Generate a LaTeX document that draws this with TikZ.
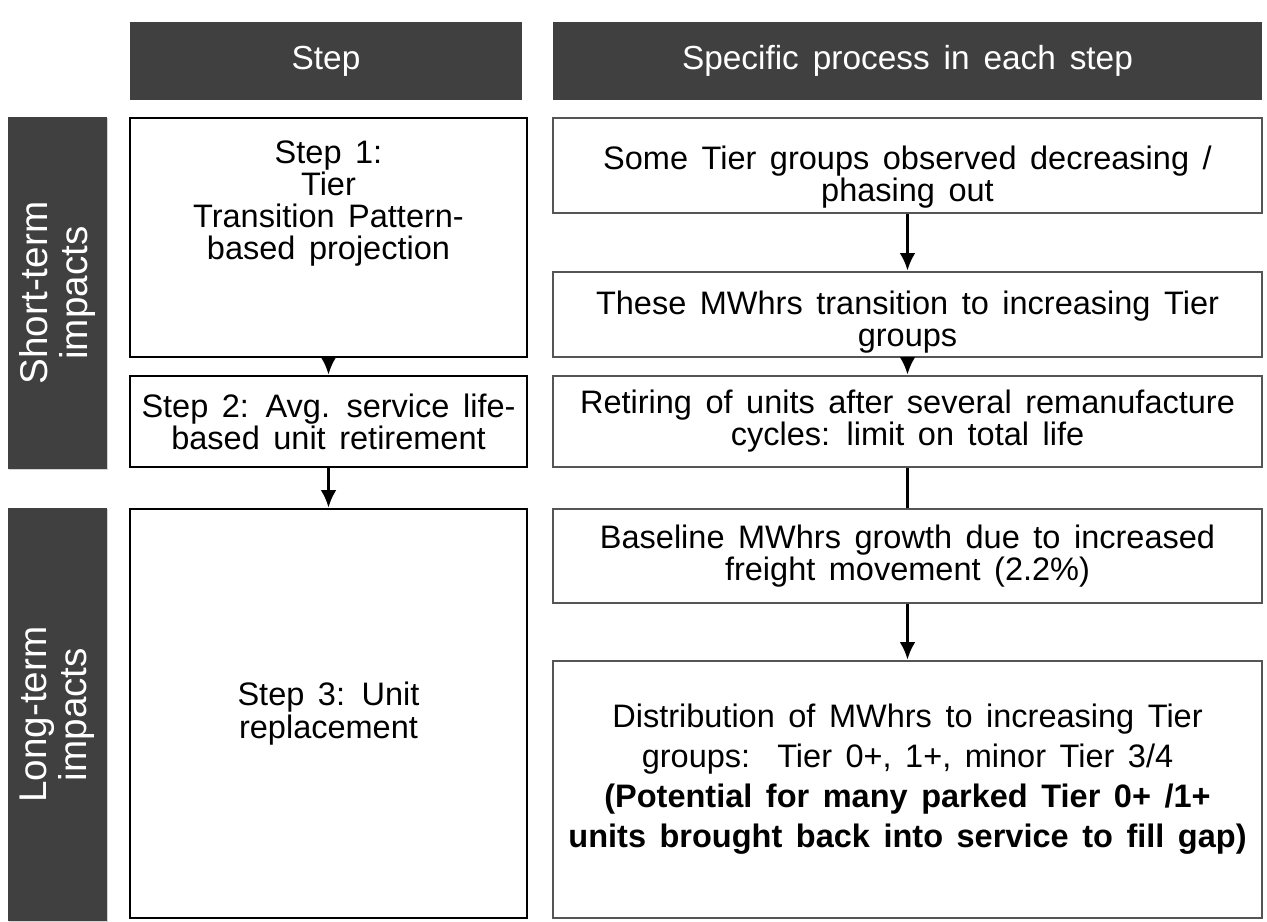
\documentclass[tikz,border=0pt]{standalone}
\usepackage{fontspec}
\setmainfont{Liberation Sans}[WordSpace=1.5]
\usetikzlibrary{shadows,arrows.meta}
\definecolor{hdrgray}{HTML}{404040}
\definecolor{boxgray}{HTML}{555555}

\begin{document}
\begin{tikzpicture}[x=0.02cm,y=-0.02cm,
    hdr/.style={fill=hdrgray,text=white,inner sep=0pt,minimum height=1.56cm,font=\fontsize{19}{22}\selectfont},
    side/.style={fill=hdrgray,text=white,rotate=90,align=center,inner sep=0pt,minimum height=1.98cm,
      drop shadow={opacity=0.35,shadow xshift=0.6pt,shadow yshift=-0.6pt},font=\fontsize{22}{22.7}\selectfont},
    stepbox/.style={draw=black,line width=1.6pt,align=center,inner sep=0pt,minimum width=7.94cm,font=\fontsize{18.5}{18.3}\selectfont},
    procbox/.style={draw=boxgray,line width=1.6pt,align=center,inner sep=0pt,minimum width=14.18cm,font=\fontsize{18.5}{18.3}\selectfont},
    link/.style={line width=1.6pt,-{Latex[length=10pt,width=9pt]}}]
        \useasboundingbox (0,0) rectangle (1267,921);
        \path
          (326,61)     node[hdr,minimum width=7.84cm]  (hstep) {Step}
          (907.5,61)   node[hdr,minimum width=14.18cm] (hproc) {Specific process in each step}
          (57.5,293)   node[side,minimum width=7.04cm] (short) {Short-term\\impacts}
          (57.5,714.5) node[side,minimum width=8.26cm] (long)  {Long-term\\impacts};
        \path
          (328.5,237.5) node[stepbox,minimum height=4.78cm] (s1) {Step 1:\\Tier\\Transition Pattern-\\based projection\\[24pt]~}
          (328.5,421.5) node[stepbox,minimum height=1.82cm] (s2) {Step 2: Avg. service life-\\based unit retirement}
          (328.5,713.5) node[stepbox,minimum height=8.18cm] (s3) {Step 3: Unit\\replacement};
        % text sits a little off centre in some boxes
        \path
          (907.5,165.5) node[procbox,minimum height=1.9cm]  (pa) {~\\[8pt]Some Tier groups observed decreasing /\\phasing out}
          (907.5,314.5) node[procbox,minimum height=1.7cm]  (pb) {~\\[4pt]These MWhrs transition to increasing Tier\\groups}
          (907.5,421.5) node[procbox,minimum height=1.82cm] (pc) {Retiring of units after several remanufacture\\cycles: limit on total life}
          (907.5,556)   node[procbox,minimum height=1.88cm] (pd) {Baseline MWhrs growth due to increased\\freight movement (2.2\%)}
          (907.5,789.5) node[procbox,minimum height=5.14cm,font=\fontsize{18.5}{22.7}\selectfont] (pe)
            {Distribution of MWhrs to increasing Tier\\groups:\ \ Tier 0+, 1+, minor Tier 3/4\\\textbf{(Potential for many parked Tier 0+ /1+}\\\textbf{units brought back into service to fill gap)}\\[-7pt]~};
        \draw[link] (s1) -- (s2);
        \draw[link] (s2) -- (s3);
        \draw[link] (pa) -- (pb);
        \draw[link] (pb) -- (pc);
        \draw[line width=1.6pt] (pc) -- (pd);
        \draw[link] (pd) -- (pe);
      \end{tikzpicture}
\end{document}
